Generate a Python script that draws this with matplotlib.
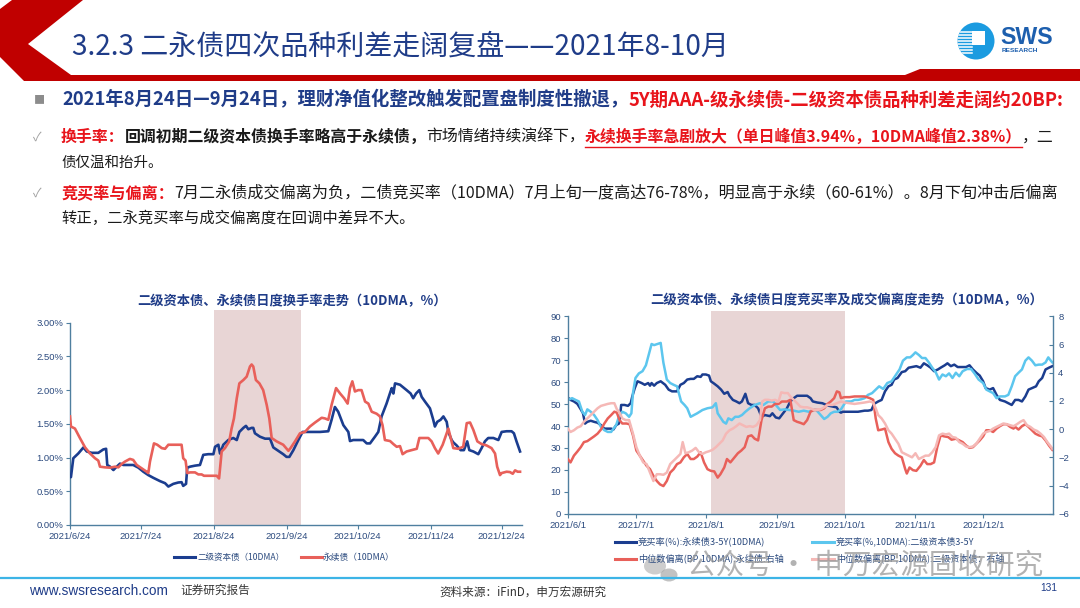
import numpy as np
import pandas as pd
import matplotlib
matplotlib.use("Agg")
import matplotlib.pyplot as plt
import matplotlib.dates as mdates
from matplotlib.transforms import Affine2D
from matplotlib.patches import Polygon, Circle, Rectangle, Ellipse
from matplotlib.lines import Line2D

CJK = ["Noto Sans CJK SC", "DejaVu Sans"]
LAT = ["Liberation Sans", "DejaVu Sans"]
plt.rcParams["font.family"] = CJK

# ---------------- data (days after start date, value) ----------------
# left chart: turnover 10DMA, %, start 2021-06-24
turn_tier2 = [(0,0.71),(0.4,0.71),(1.4,0.99),(3.5,1.06),(5.7,1.15),(7.1,1.09),(9.2,1.07),(12.0,1.07),(14.1,1.12),(15.3,1.13),
              (15.8,0.89),(17.0,0.865),(18.4,0.815),(19.8,0.865),(21.2,0.91),(22.6,0.89),(24.0,0.89),(26.8,0.89),(29.0,0.85),
              (31.1,0.79),(33.2,0.74),(35.3,0.70),(38.2,0.65),(40.3,0.62),(41.7,0.57),(43.8,0.61),(45.9,0.63),(47.3,0.635),
              (48.0,0.58),(49.2,0.61),(49.7,0.85),(50.9,0.865),(53.0,0.88),(55.1,0.89),(56.5,1.04),(58.6,1.05),(60.8,1.05),
              (61.5,1.16),(62.9,1.19),(63.6,1.06),(65.0,1.19),(67.1,1.26),(69.2,1.29),(70.7,1.26),(71.8,1.38),(73.5,1.44),
              (74.6,1.47),(75.6,1.42),(77.0,1.44),(77.7,1.44),(78.4,1.36),(80.5,1.31),(82.7,1.28),(84.8,1.28),(86.2,1.15),
              (88.3,1.10),(90.4,1.05),(91.8,1.01),(93.0,1.01),(94.7,1.11),(96.8,1.26),(98.6,1.38),(100.3,1.38),(103.2,1.38),
              (106.0,1.38),(109.5,1.39),(110.9,1.56),(112.3,1.75),(113.7,1.68),(115.9,1.48),(118.0,1.38),(118.7,1.245),
              (120.1,1.26),(124.3,1.26),(125.8,1.21),(127.2,1.21),(129.3,1.31),(130.7,1.38),(132.1,1.61),(134.2,1.80),
              (135.9,1.98),(136.4,2.03),(137.1,1.95),(137.8,2.10),(139.9,2.08),(142.7,2.00),(144.4,1.95),(145.5,1.88),
              (146.7,1.95),(148.1,2.00),(149.1,1.90),(150.5,1.83),(152.6,1.73),(154.0,1.56),(154.7,1.46),(155.7,1.53),
              (157.1,1.56),(158.3,1.61),(159.7,1.53),(160.4,1.38),(161.8,1.26),(162.5,1.225),(163.9,1.18),(165.6,1.11),
              (167.0,1.11),(168.4,1.24),(169.3,1.11),(171.0,1.09),(173.1,1.05),(174.5,1.14),(175.9,1.24),(177.3,1.29),
              (179.5,1.29),(181.6,1.26),(183.0,1.38),(185.1,1.39),(187.2,1.39),(188.2,1.36),(189.3,1.24),(190.8,1.09)]
turn_perp = [(0,1.61),(0.4,1.46),(2.1,1.43),(4.2,1.29),(6.4,1.15),(8.5,1.06),(10.6,0.99),(12.0,0.955),(12.7,0.865),(14.8,0.855),
             (17.0,0.85),(19.1,0.865),(20.5,0.855),(21.9,0.905),(23.3,0.94),(25.4,0.98),(26.8,0.965),(28.3,0.89),(30.4,0.84),
             (32.5,0.79),(33.2,0.77),(33.9,0.94),(35.6,1.21),(37.0,1.19),(38.9,1.14),(40.3,1.13),(41.7,1.19),(43.8,1.19),
             (45.9,1.19),(47.3,1.19),(48.0,0.99),(49.0,0.955),(49.7,0.77),(50.9,0.78),(53.0,0.78),(54.4,0.75),(55.8,0.75),
             (56.8,0.73),(58.6,0.73),(60.8,0.73),(62.2,0.73),(63.2,0.69),(64.3,1.09),(65.7,1.14),(67.5,1.24),(68.5,1.43),
             (69.5,1.58),(70.7,1.88),(71.8,2.10),(73.5,2.15),(74.9,2.20),(76.3,2.35),(77.0,2.38),(77.7,2.35),(78.8,2.15),
             (80.3,2.10),(81.9,2.00),(83.4,1.78),(84.5,1.58),(85.5,1.29),(87.6,1.24),(90.4,1.19),(92.6,1.10),(93.5,1.14),
             (95.4,1.24),(97.5,1.36),(99.6,1.38),(101.7,1.46),(103.9,1.52),(106.7,1.59),(108.1,1.58),(109.5,1.56),
             (110.9,1.78),(112.8,2.03),(114.5,1.95),(116.2,1.88),(117.7,1.80),(118.7,2.03),(119.7,2.13),(120.8,1.98),
             (122.2,2.00),(123.6,2.00),(125.1,1.83),(126.5,1.80),(127.9,1.68),(130.0,1.65),(131.4,1.61),(132.5,1.48),
             (133.5,1.26),(135.7,1.245),(137.1,1.20),(138.5,1.16),(139.9,1.17),(141.0,1.05),(142.7,1.09),(144.8,1.11),
             (147.0,1.13),(148.1,1.29),(149.8,1.29),(151.9,1.29),(153.3,1.24),(154.7,1.14),(156.1,1.06),(158.0,1.19),
             (160.4,1.43),(162.5,1.14),(164.6,1.13),(166.7,1.16),(168.2,1.51),(169.6,1.52),(171.0,1.41),(172.7,1.24),
             (174.5,1.20),(176.6,1.18),(178.7,1.14),(180.2,1.06),(181.1,0.865),(182.3,0.74),(183.0,0.77),(185.1,0.79),
             (186.5,0.785),(187.7,0.76),(188.7,0.81),(189.8,0.79),(190.8,0.79)]

# right chart: bid ratio (%, left axis) and median deviation (BP, right axis), start 2021-06-01
bid_perp = [(0,53.0),(1.2,51.9),(2.7,51.2),(4.2,50.1),(5.7,47.6),(6.7,45.8),(7.6,41.1),(8.6,41.9),(10.1,42.4),(11.6,41.9),
            (13.1,41.5),(14.6,40.4),(16.1,38.8),(17.6,38.8),(19.1,38.8),(20.1,38.4),(21.3,40.4),(22.5,41.1),(23.1,45.0),
            (23.5,49.6),(25.0,49.6),(26.5,49.2),(27.7,50.4),(28.4,53.5),(29.5,57.3),(30.7,60.4),(32.5,59.6),(33.9,58.8),
            (35.4,59.6),(36.2,58.4),(36.9,59.6),(38.0,58.4),(39.2,59.6),(40.9,60.4),(42.9,58.8),(44.4,56.6),(45.9,55.8),
            (48.1,55.8),(49.6,58.8),(51.1,59.6),(52.6,61.2),(54.1,61.5),(55.5,61.5),(57.0,62.7),(58.5,62.4),(59.3,63.5),
            (60.8,63.5),(62.2,63.0),(63.0,60.4),(64.5,59.3),(66.0,58.1),(67.5,56.6),(68.9,54.7),(70.4,55.5),(71.2,53.8),
            (72.7,51.9),(74.2,51.2),(75.6,50.4),(76.7,51.2),(78.2,54.7),(79.4,50.4),(80.9,49.6),(82.3,49.6),(83.8,48.1),
            (85.3,44.2),(86.8,45.0),(89.0,44.5),(90.1,45.8),(91.6,43.9),(93.1,43.5),(95.0,46.1),(96.5,48.1),(98.0,51.2),
            (99.5,52.7),(101.0,53.8),(103.2,53.8),(105.4,53.8),(106.9,52.7),(107.9,51.2),(109.9,50.7),(112.1,50.4),
            (113.9,49.6),(115.1,49.2),(116.6,48.9),(118.4,48.5),(119.6,46.5),(120.3,46.1),(121.1,46.5),(122.2,46.5),
            (124.8,46.5),(127.8,46.5),(130.7,47.0),(132.2,47.0),(133.7,47.3),(134.9,50.1),(136.7,51.2),(138.2,51.9),
            (139.7,55.8),(141.2,58.1),(142.6,58.8),(143.7,61.2),(145.2,61.9),(147.1,64.6),(148.6,65.0),(150.1,66.6),
            (151.6,66.9),(153.5,67.3),(155.3,66.6),(156.8,68.6),(158.3,67.7),(159.8,66.6),(161.3,65.0),(163.0,65.8),
            (164.2,66.6),(166.0,67.7),(167.2,68.6),(168.7,67.3),(170.2,68.0),(171.7,66.9),(173.5,66.9),(175.4,66.9),
            (176.9,67.7),(178.4,65.8),(179.9,64.3),(181.4,63.0),(182.9,60.4),(184.0,57.3),(185.8,56.6),(187.3,57.3),
            (188.8,54.2),(190.3,51.9),(192.5,51.2),(194.0,50.4),(195.5,49.6),(197.0,51.9),(198.5,51.9),(200.0,51.2),
            (201.5,53.5),(202.9,56.6),(204.4,57.3),(206.2,58.1),(207.4,60.4),(208.9,61.9),(210.4,65.8),(211.9,66.6),
            (213.4,67.3)]
bid_tier2 = [(0,51.9),(1.9,52.7),(3.4,51.9),(4.9,51.2),(6.4,46.5),(7.6,45.0),(8.6,47.6),(10.1,46.5),(11.6,45.0),(13.1,42.7),
             (14.6,39.6),(16.1,38.1),(17.6,37.3),(19.1,37.3),(20.1,38.8),(21.3,40.4),(22.5,44.2),(24.0,46.5),(25.5,45.8),
             (27.0,44.2),(28.0,45.8),(28.7,55.0),(29.8,61.9),(31.3,64.0),(32.9,65.0),(34.4,67.7),(35.7,72.7),(36.9,77.4),
             (38.0,76.9),(39.5,77.4),(40.9,77.9),(42.1,68.9),(43.6,61.2),(45.1,59.6),(46.6,58.8),(48.1,58.1),(49.9,51.2),
             (51.4,49.6),(52.6,48.1),(54.1,44.2),(55.5,45.0),(57.0,45.8),(59.3,47.3),(61.5,48.1),(63.7,48.5),(65.2,50.4),
             (66.0,45.8),(67.2,43.9),(68.5,41.9),(69.7,41.1),(70.7,43.5),(72.2,42.7),(73.7,44.2),(75.2,44.2),(76.7,45.0),
             (78.2,46.5),(80.1,48.1),(82.3,49.6),(84.6,50.4),(86.1,49.6),(88.3,51.2),(90.5,51.2),(91.6,49.6),(93.5,47.3),
             (95.4,47.6),(97.5,47.3),(99.5,47.0),(101.7,46.5),(103.9,47.0),(106.2,46.5),(107.7,47.3),(109.4,47.3),
             (111.4,45.0),(112.9,43.2),(114.4,44.2),(115.8,45.8),(117.3,46.5),(118.8,46.5),(120.3,47.6),(122.5,51.2),
             (124.8,51.2),(126.3,51.9),(127.8,51.9),(129.2,52.2),(130.7,52.7),(132.2,54.2),(134.0,55.0),(135.6,56.6),
             (137.1,58.1),(138.9,56.9),(140.7,59.6),(142.6,60.4),(144.6,63.5),(146.1,65.8),(147.6,69.8),(149.3,71.3),
             (150.8,71.3),(152.0,72.4),(153.1,73.6),(154.6,72.4),(156.0,71.0),(157.5,71.0),(159.0,69.0),(160.5,66.6),
             (162.0,64.6),(163.5,61.2),(165.0,63.5),(166.5,62.7),(167.9,64.0),(169.4,61.9),(170.9,64.3),(172.4,62.7),
             (173.9,65.0),(175.8,66.0),(177.6,66.0),(179.1,64.0),(180.9,61.2),(182.9,59.6),(184.3,56.6),(185.8,55.8),
             (187.3,55.0),(188.8,52.7),(190.3,53.5),(192.5,53.5),(194.0,54.2),(195.5,58.1),(197.0,62.7),(198.5,64.3),
             (200.0,65.8),(201.5,69.8),(202.9,71.3),(204.4,69.8),(205.9,67.7),(207.4,68.0),(208.9,68.0),(210.4,69.0),
             (211.6,71.3),(212.7,69.8),(213.4,69.0)]
dev_perp = [(0,-2.12),(1.2,-2.36),(2.7,-1.88),(4.2,-1.59),(5.7,-1.28),(7.1,-0.92),(8.6,-0.85),(10.1,-0.68),(11.6,-0.51),
            (13.1,-0.32),(14.6,-0.03),(16.1,0.40),(17.6,0.76),(19.1,1.00),(20.5,1.24),(21.6,1.17),(22.8,0.64),(24.0,0.40),
            (25.8,0.40),(27.2,0.35),(28.7,-0.44),(30.2,-1.52),(31.7,-1.88),(33.2,-2.24),(34.7,-2.60),(36.2,-2.84),
            (37.7,-3.32),(39.2,-3.68),(40.6,-3.92),(42.1,-4.04),(43.6,-3.68),(45.1,-3.08),(46.6,-2.84),(48.1,-2.48),
            (49.6,-2.36),(51.1,-2.00),(52.6,-1.76),(54.1,-2.12),(55.5,-2.12),(57.0,-1.95),(58.5,-1.64),(60.0,-2.36),
            (61.5,-2.84),(63.0,-2.96),(64.5,-3.00),(66.0,-3.44),(67.2,-3.20),(68.9,-2.72),(70.1,-2.12),(71.6,-2.36),
            (73.4,-2.00),(74.9,-1.71),(76.4,-1.52),(77.9,-1.28),(79.4,-0.51),(80.9,-0.44),(82.3,-0.68),(83.8,-0.80),
            (85.3,0.64),(86.8,1.48),(88.3,1.60),(89.8,1.60),(91.3,1.79),(92.8,1.79),(94.3,1.96),(96.5,1.96),(98.0,2.08),
            (99.5,0.64),(101.0,0.52),(102.4,0.45),(103.9,0.35),(105.4,0.64),(106.9,1.24),(108.4,1.36),(109.9,1.36),
            (111.4,1.36),(112.9,1.48),(114.4,1.79),(115.8,1.96),(117.3,2.20),(118.5,2.68),(119.6,2.61),(120.3,2.20),
            (121.8,2.27),(124.0,2.27),(126.3,2.32),(128.5,2.32),(130.7,2.32),(133.0,2.20),(134.5,2.08),(135.6,0.76),
            (136.7,-0.08),(138.2,-0.03),(139.7,0.04),(141.2,-0.92),(142.6,-1.40),(144.1,-1.71),(145.6,-1.88),(147.1,-2.00),
            (148.6,-2.84),(149.3,-3.15),(150.5,-2.72),(152.0,-2.91),(153.5,-2.96),(155.3,-2.60),(156.8,-2.19),
            (158.3,-2.48),(159.8,-2.48),(161.3,-2.36),(162.7,-1.28),(164.2,-0.44),(165.7,-0.51),(167.5,-0.56),
            (169.0,-0.75),(170.9,-0.68),(172.4,-0.80),(173.9,-0.92),(175.4,-1.16),(176.9,-1.33),(178.4,-1.28),
            (179.9,-1.04),(181.4,-0.80),(182.9,-0.51),(184.3,-0.08),(185.8,-0.08),(187.3,-0.20),(188.8,0.04),(190.3,0.21),
            (191.8,0.35),(193.3,0.35),(194.8,0.16),(196.3,0.04),(197.0,0.16),(198.5,-0.03),(200.0,0.21),(201.5,0.35),
            (202.9,0.16),(204.4,-0.08),(205.9,-0.32),(207.4,-0.44),(208.9,-0.51),(210.4,-0.80),(211.9,-1.16),(213.4,-1.47)]
dev_tier2 = [(0,0.04),(1.2,-0.20),(2.7,-0.08),(4.2,0.11),(5.7,0.21),(7.1,0.52),(8.6,0.76),(10.1,1.00),(11.6,1.24),(13.1,1.48),
             (14.6,1.65),(16.1,1.72),(17.6,1.79),(19.1,1.84),(20.5,1.84),(21.6,1.41),(22.8,1.17),(24.0,0.76),(25.5,0.64),
             (27.0,0.64),(28.7,-0.32),(30.2,-1.28),(31.7,-1.88),(33.2,-2.36),(34.7,-2.48),(36.2,-3.08),(37.7,-3.68),
             (39.2,-3.20),(40.6,-3.20),(42.1,-3.24),(43.6,-3.08),(45.1,-2.48),(46.6,-2.24),(48.1,-2.00),(49.6,-1.76),
             (50.6,-0.92),(51.8,-1.71),(53.3,-1.64),(54.8,-1.52),(56.3,-1.33),(57.8,-1.64),(59.3,-1.76),(60.8,-1.64),
             (62.2,-1.57),(63.7,-1.47),(65.2,-1.28),(66.7,-1.04),(68.2,-0.80),(69.7,-0.32),(71.2,-0.08),(72.7,0.04),
             (74.2,0.21),(75.6,0.40),(77.1,0.28),(78.6,0.16),(80.1,0.21),(81.6,0.16),(83.1,0.28),(84.6,0.64),(85.6,1.96),
             (86.8,2.08),(88.3,2.08),(89.8,2.03),(91.3,2.08),(92.8,1.96),(94.0,2.61),(95.4,2.56),(96.9,2.56),(98.0,2.32),
             (99.5,2.08),(101.0,1.84),(102.4,1.60),(103.9,1.55),(105.4,1.55),(106.9,1.48),(108.4,1.36),(109.9,1.36),
             (111.4,1.41),(112.9,1.55),(114.4,1.72),(116.6,1.72),(118.5,1.84),(120.3,1.96),(121.8,1.89),(124.0,1.84),
             (126.3,1.79),(128.5,1.84),(130.7,1.89),(133.0,1.96),(134.5,1.89),(135.6,1.48),(136.7,1.00),(138.2,0.76),
             (139.7,0.40),(141.2,-0.08),(142.6,-0.32),(144.1,-0.68),(145.6,-1.04),(147.1,-1.64),(148.6,-1.76),
             (150.1,-1.88),(151.6,-2.00),(153.1,-1.71),(154.6,-2.12),(156.0,-2.00),(157.5,-1.88),(159.0,-1.88),
             (160.5,-1.64),(162.0,-1.28),(163.5,-0.44),(165.0,-0.32),(166.5,-0.37),(167.9,-0.32),(169.4,-0.56),
             (170.9,-0.61),(172.4,-0.92),(173.9,-1.04),(175.4,-1.23),(176.9,-1.28),(178.4,-1.23),(179.9,-1.04),
             (181.4,-0.68),(182.9,-0.32),(184.3,-0.20),(185.8,-0.13),(187.3,0.04),(188.8,0.16),(190.3,0.28),(191.8,0.40),
             (193.3,0.35),(194.8,0.28),(196.3,0.21),(197.8,0.35),(199.3,0.52),(200.7,0.64),(202.2,0.28),(203.7,0.16),
             (205.2,-0.03),(206.7,-0.13),(208.2,-0.32),(209.7,-0.56),(211.2,-0.92),(212.7,-1.23),(213.4,-1.40)]

L_START, R_START = "2021-06-24", "2021-06-01"
L_SHADE = ("2021-08-24", "2021-09-30")
R_SHADE = ("2021-08-03", "2021-10-01")
L_TICKS = ["2021-06-24", "2021-07-24", "2021-08-24", "2021-09-24", "2021-10-24", "2021-11-24", "2021-12-24"]
L_TICK_LABELS = ["2021/6/24", "2021/7/24", "2021/8/24", "2021/9/24", "2021/10/24", "2021/11/24", "2021/12/24"]
R_TICKS = ["2021-06-01", "2021-07-01", "2021-08-01", "2021-09-01", "2021-10-01", "2021-11-01", "2021-12-01"]
R_TICK_LABELS = ["2021/6/1", "2021/7/1", "2021/8/1", "2021/9/1", "2021/10/1", "2021/11/1", "2021/12/1"]

# ---------------- figure ----------------
W, H = 1080, 608
fig = plt.figure(figsize=(W / 100, H / 100), dpi=100)
fig.patch.set_facecolor("white")
PX = Affine2D().scale(1, -1).translate(0, H)   # pixel coords, origin top-left
R = fig.canvas.get_renderer()

NAVY = "#1f3c88"
RED = "#e8141b"


def put(x, y, s, size, width=None, ha="left", family=CJK, **kw):
    t = fig.text(x, y, s, transform=PX, fontsize=size, ha=ha, va="center", family=family, **kw)
    if width:
        t.set_fontsize(size * width / t.get_window_extent(R).width)
    return t


def run(x0, y, segs, size, x1):
    texts = [fig.text(0, 0, s, transform=PX, fontsize=size, va="center", ha="left",
                      color=c, weight=w, family=CJK) for s, c, w in segs]
    tot = sum(t.get_window_extent(R).width for t in texts)
    x = x0
    for t in texts:
        t.set_fontsize(size * (x1 - x0) / tot)
        t.set_position((x, y))
        x += t.get_window_extent(R).width
    return texts


# header decoration
fig.add_artist(Polygon([(12, 0), (83, 0), (28, 44), (71, 75), (905, 75), (920, 69), (1080, 69), (1080, 81),
                        (24, 81), (0, 57), (0, 9)], closed=True, transform=PX, facecolor="#c00000", lw=0))
put(72, 47, "3.2.3 二永债四次品种利差走阔复盘——2021年8-10月", 16, width=658, color=NAVY)

# logo
disk = Circle((976, 41), 18.5, transform=PX, facecolor="#1b9be0", lw=0)
fig.add_artist(disk)
for yy in np.arange(32, 54, 3):
    ln = Line2D([957, 972], [yy, yy], transform=PX, color="white", lw=1.1)
    ln.set_clip_path(disk)
    fig.add_artist(ln)
fig.add_artist(Rectangle((972, 31), 13, 14, transform=PX, facecolor="white", lw=0))
put(1000, 37, "SWS", 15, width=53, family=LAT, weight="bold", color="#1d5fae")
put(1002, 51, "RESEARCH", 4, width=36, family=LAT, weight="bold", color="#1d5fae")

# body text
put(34, 100, "■", 8, color="#8c8c8c")
run(62, 100, [("2021年8月24日—9月24日，理财净值化整改触发配置盘制度性撤退，", NAVY, "bold"),
              ("5Y期AAA-级永续债-二级资本债品种利差走阔约20BP:", RED, "bold")], 12, 1064)
put(33, 137, "✓", 9, color="#a0a0a0")
seg2 = run(61, 137, [("换手率：", RED, "bold"), ("回调初期二级资本债换手率略高于永续债，", "#1a1a1a", "bold"),
                     ("市场情绪持续演绎下，", "#1a1a1a", "normal"),
                     ("永续换手率急剧放大（单日峰值3.94%，10DMA峰值2.38%）", RED, "bold"),
                     ("，二", "#1a1a1a", "normal")], 12, 1055)
bb = seg2[3].get_window_extent(R)
fig.add_artist(Line2D([bb.x0, bb.x1], [147, 147], transform=PX, color=RED, lw=1.0))
run(61, 163, [("债仅温和抬升。", "#1a1a1a", "normal")], 12, 162)
put(33, 193, "✓", 9, color="#a0a0a0")
run(61, 193, [("竞买率与偏离：", RED, "bold"),
              ("7月二永债成交偏离为负，二债竞买率（10DMA）7月上旬一度高达76-78%，明显高于永续（60-61%）。8月下旬冲击后偏离",
               "#1a1a1a", "normal")], 12, 1055)
run(61, 218, [("转正，二永竞买率与成交偏离度在回调中差异不大。", "#1a1a1a", "normal")], 12, 413)

# ---------------- left chart ----------------
SHADE = "#e8d5d5"
SP = "#4f7f9f"
axL = fig.add_axes([70 / W, (H - 525) / H, 451.7 / W, 215 / H])
d0 = mdates.datestr2num(L_START)
for series, col in ((turn_tier2, "#1b3d8f"), (turn_perp, "#e8605a")):
    dd, vv = zip(*series)
    axL.plot(d0 + np.array(dd), vv, color=col, lw=1.9, solid_joinstyle="round", zorder=3)
axL.axvspan(*mdates.datestr2num(L_SHADE), color=SHADE, lw=0, zorder=0)
axL.set_xlim(d0, d0 + 191.5)
axL.set_ylim(0, 3.188)
axL.set_yticks(np.arange(0, 3.01, 0.5))
axL.set_yticklabels([f"{v:.2f}%" for v in np.arange(0, 3.01, 0.5)])
axL.set_xticks(mdates.datestr2num(L_TICKS))
axL.set_xticklabels(L_TICK_LABELS)
for s in ("top", "right"):
    axL.spines[s].set_visible(False)
axL.spines["left"].set_bounds(0, 3.0)
for s in ("left", "bottom"):
    axL.spines[s].set_color(SP)
    axL.spines[s].set_linewidth(1.0)
axL.tick_params(length=3, width=0.8, color=SP, labelsize=6.8, labelcolor="#2b4a7e", pad=2)
for t in axL.get_xticklabels() + axL.get_yticklabels():
    t.set_family(LAT)
put(292, 301.5, "二级资本债、永续债日度换手率走势（10DMA，%）", 10, width=310, ha="center", weight="bold", color=NAVY)
fig.add_artist(Line2D([174, 195], [557, 557], transform=PX, color="#1b3d8f", lw=2.2))
put(197, 557, "二级资本债（10DMA）", 7, width=88, color="#2b4a7e")
fig.add_artist(Line2D([301, 322], [557, 557], transform=PX, color="#e8605a", lw=2.2))
put(323, 557, "永续债（10DMA）", 7, width=72, color="#2b4a7e")

# ---------------- right chart ----------------
axR = fig.add_axes([567.8 / W, (H - 513.7) / H, 484.8 / W, 202.7 / H])
axR2 = axR.twinx()
r0 = mdates.datestr2num(R_START)
for ax, series, col in ((axR, bid_perp, "#1b3d8f"), (axR, bid_tier2, "#5cc6ee"),
                        (axR2, dev_perp, "#e8605a"), (axR2, dev_tier2, "#f5b8b6")):
    dd, vv = zip(*series)
    ax.plot(r0 + np.array(dd), vv, color=col, lw=1.8, solid_joinstyle="round")
axR.axvspan(*mdates.datestr2num(R_SHADE), color=SHADE, lw=0, zorder=0)
axR.set_xlim(r0, r0 + 213.5)
axR.set_ylim(0, 92.46)
axR2.set_ylim(-6, 8.383)
axR.set_yticks(np.arange(0, 91, 10))
axR2.set_yticks(np.arange(-6, 9, 2))
axR.set_xticks(mdates.datestr2num(R_TICKS))
axR.set_xticklabels(R_TICK_LABELS)
for s in ("top", "right"):
    axR.spines[s].set_visible(False)
for s in ("top", "left", "bottom"):
    axR2.spines[s].set_visible(False)
axR.spines["left"].set_bounds(0, 90)
axR2.spines["right"].set_bounds(-6, 8)
for sp in (axR.spines["left"], axR.spines["bottom"], axR2.spines["right"]):
    sp.set_color(SP)
    sp.set_linewidth(1.0)
axR.tick_params(length=3, width=0.8, color=SP, labelsize=6.8, labelcolor="#2b4a7e", pad=2)
axR2.tick_params(direction="in", length=3, width=0.8, color=SP, labelsize=6.8, labelcolor="#2b4a7e", pad=4)
for t in axR.get_xticklabels() + axR.get_yticklabels() + axR2.get_yticklabels():
    t.set_family(LAT)
put(847, 300, "二级资本债、永续债日度竞买率及成交偏离度走势（10DMA，%）", 10, width=393, ha="center",
    weight="bold", color=NAVY)
legend_rows = [((615, 636), 541.5, "#1b3d8f", "竞买率(%):永续债3-5Y(10DMA)", 127),
               ((812, 834), 541.5, "#5cc6ee", "竞买率(%,10DMA):二级资本债3-5Y", 139),
               ((615, 636), 558.5, "#e8605a", "中位数偏离(BP,10DMA):永续债:右轴", 147),
               ((812, 834), 558.5, "#f5b8b6", "中位数偏离(BP,10DMA):二级资本债：右轴", 169)]
for (xa, xb), yy, col, lab, wd in legend_rows:
    fig.add_artist(Line2D([xa, xb], [yy, yy], transform=PX, color=col, lw=2.2))
    put(xb + 2, yy, lab, 7, width=wd, color="#2b4a7e")

# watermark
fig.add_artist(Ellipse((655, 566), 22, 17, transform=PX, facecolor="#b8b8b8", alpha=0.7, lw=0))
fig.add_artist(Ellipse((669, 575), 17, 13, transform=PX, facecolor="#a8a8a8", alpha=0.7, lw=0))
put(687, 566, "公众号 · 申万宏源固收研究", 20, width=356, color="#999999", alpha=0.75)

# footer
fig.add_artist(Line2D([0, W], [578, 578], transform=PX, color="#3cb4e6", lw=1.6))
put(29, 591, "www.swsresearch.com", 9, width=138, family=LAT, color=NAVY)
put(180, 590, "证券研究报告", 8, width=70, color="#333333")
put(439, 592, "资料来源：iFinD，申万宏源研究", 8, width=167, color="#333333")
put(1057, 588, "131", 8, width=17, ha="right", family=LAT, color=NAVY)

fig.savefig("out.png", dpi=100)
